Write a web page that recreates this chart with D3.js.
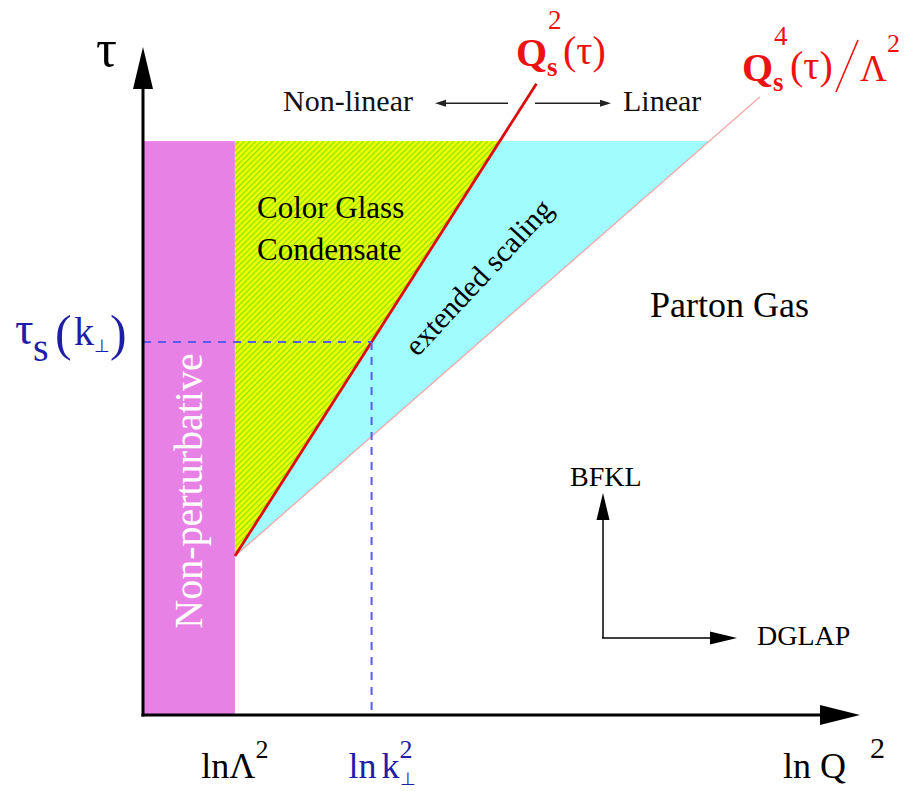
<!DOCTYPE html>
<html>
<head>
<meta charset="utf-8">
<script src="https://cdn.jsdelivr.net/npm/d3@7"></script>
<style>
  html, body { margin: 0; padding: 0; background: #ffffff; }
  svg { display: block; }
</style>
</head>
<body>
<svg id="chart" width="907" height="791" font-family="'Liberation Serif', Tinos, 'Times New Roman', serif"></svg>
<script>
// Phase diagram of high-energy QCD in the (ln Q², τ) plane.

// Extent of the two axes (arbitrary units)
const lnQ2Range = [0, 7.8];
const tauRange = [0, 11.64];

// Key values
const lnLambda2 = 1.0;     // ln Λ²: edge of the non-perturbative strip
const tauTop = 10.0;       // upper edge of the shaded regions
const tauOnset = 2.77;     // τ where both boundary lines start
const tauS = 6.5;          // τ_s(k⊥)

// Boundary lines as [ln Q², τ] end points
const saturationLine = [[1.0, 2.77], [4.28, 11.0]];   // Q_s²(τ)
const scalingLine = [[1.0, 2.77], [6.71, 10.77]];     // Q_s⁴(τ)/Λ²

// Region names
const regionNames = {
  cgc: ["Color Glass", "Condensate"],
  scaling: "extended scaling",
  gas: "Parton Gas",
  np: "Non-perturbative"
};

const svg = d3.select("#chart");

const x = d3.scaleLinear().domain(lnQ2Range).range([143, 860]);
const y = d3.scaleLinear().domain(tauRange).range([715, 47]);

// ln Q² on a boundary line at a given τ
function lnQ2At(line, tau) {
  const [[x0, t0], [x1, t1]] = line;
  return x0 + (tau - t0) * (x1 - x0) / (t1 - t0);
}

const lnK2 = lnQ2At(saturationLine, tauS);
const satTop = lnQ2At(saturationLine, tauTop);
const scalTop = lnQ2At(scalingLine, tauTop);

// Hatch for the Color Glass Condensate region
const defs = svg.append("defs");
const hatch = defs.append("pattern")
  .attr("id", "cgcHatch")
  .attr("patternUnits", "userSpaceOnUse")
  .attr("width", 4).attr("height", 4)
  .attr("patternTransform", "rotate(45)");
hatch.append("rect").attr("width", 4).attr("height", 4).attr("fill", "#efff00");
hatch.append("rect").attr("width", 1.3).attr("height", 4).attr("fill", "#8de400");

const poly = pts => "M" + pts.map(p => x(p[0]) + "," + y(p[1])).join("L") + "Z";

// Non-perturbative strip
svg.append("rect")
  .attr("x", x(0)).attr("y", y(tauTop))
  .attr("width", x(lnLambda2) - x(0))
  .attr("height", y(0) - y(tauTop))
  .attr("fill", "#e881e6");

// Color Glass Condensate
svg.append("path")
  .attr("d", poly([[lnLambda2, tauTop], [satTop, tauTop], [lnLambda2, tauOnset]]))
  .attr("fill", "url(#cgcHatch)");

// Extended scaling window
svg.append("path")
  .attr("d", poly([[satTop, tauTop], [scalTop, tauTop], [lnLambda2, tauOnset]]))
  .attr("fill", "#a0fcfd");

const lineGen = d3.line().x(d => x(d[0])).y(d => y(d[1]));

// Q_s⁴/Λ² boundary
svg.append("path")
  .attr("d", lineGen(scalingLine))
  .attr("fill", "none")
  .attr("stroke", "#f2a8a8")
  .attr("stroke-width", 1.3);

// Saturation line
svg.append("path")
  .attr("d", lineGen(saturationLine))
  .attr("fill", "none")
  .attr("stroke", "#dd0c0c")
  .attr("stroke-width", 2.8);

// τ_s(k⊥) guides
const dashColor = "#5a5af5";
svg.append("line")
  .attr("x1", x(0)).attr("x2", x(lnK2))
  .attr("y1", y(tauS)).attr("y2", y(tauS))
  .attr("stroke", dashColor).attr("stroke-width", 2)
  .attr("stroke-dasharray", "8,7");
svg.append("line")
  .attr("x1", x(lnK2)).attr("x2", x(lnK2))
  .attr("y1", y(tauS)).attr("y2", y(0))
  .attr("stroke", dashColor).attr("stroke-width", 2)
  .attr("stroke-dasharray", "8,7");

// Straight arrow with a filled triangular head
function arrow(g, x1, y1, x2, y2, width, headLen, headHalf, color) {
  const dx = x2 - x1, dy = y2 - y1;
  const len = Math.hypot(dx, dy);
  const ux = dx / len, uy = dy / len;
  const bx = x2 - ux * headLen, by = y2 - uy * headLen;
  g.append("line")
    .attr("x1", x1).attr("y1", y1).attr("x2", bx + ux).attr("y2", by + uy)
    .attr("stroke", color).attr("stroke-width", width);
  g.append("path")
    .attr("d", `M${x2},${y2}L${bx - uy * headHalf},${by + ux * headHalf}L${bx + uy * headHalf},${by - ux * headHalf}Z`)
    .attr("fill", color);
}

// Axes
const axes = svg.append("g");
arrow(axes, x(0), y(0) + 1.5, x(0), y(tauRange[1]), 3, 42, 10, "#000");
arrow(axes, x(0) - 1.5, y(0), x(lnQ2Range[1]), y(0), 3, 40, 10, "#000");

// Non-linear / Linear arrows across the saturation line
const tauArrow = 10.66;
const ann = svg.append("g");
arrow(ann, 508, y(tauArrow), 435, y(tauArrow), 1.3, 11, 3.5, "#222");
arrow(ann, 535, y(tauArrow), 611, y(tauArrow), 1.3, 11, 3.5, "#222");
ann.append("text").attr("x", 283).attr("y", y(tauArrow) + 8)
  .attr("font-size", 30).attr("fill", "#111").text("Non-linear");
ann.append("text").attr("x", 623).attr("y", y(tauArrow) + 8)
  .attr("font-size", 30).attr("fill", "#111").text("Linear");

// BFKL / DGLAP evolution directions
arrow(ann, 603, 638, 603, 493, 1.5, 27, 6.5, "#000");
arrow(ann, 602, 638, 737, 638, 1.5, 27, 6.5, "#000");
ann.append("text").attr("x", 570).attr("y", 486).attr("font-size", 28).text("BFKL");
ann.append("text").attr("x", 757).attr("y", 645).attr("font-size", 28).text("DGLAP");

// Region labels
svg.append("text").attr("x", 257).attr("y", 218).attr("font-size", 31).text(regionNames.cgc[0]);
svg.append("text").attr("x", 257).attr("y", 260).attr("font-size", 31).text(regionNames.cgc[1]);
svg.append("text").attr("x", 650).attr("y", 317).attr("font-size", 36).text(regionNames.gas);
svg.append("text")
  .attr("transform", "translate(486,284) rotate(-47)")
  .attr("text-anchor", "middle")
  .attr("font-size", 30)
  .text(regionNames.scaling);
svg.append("text")
  .attr("transform", `translate(${(x(0) + x(lnLambda2)) / 2 + 13},491) rotate(-90)`)
  .attr("text-anchor", "middle")
  .attr("font-size", 40)
  .attr("fill", "#ffffff")
  .text(regionNames.np);

// Axis titles
svg.append("text").attr("x", 96).attr("y", 66).attr("font-size", 52).text("τ");

const xl = svg.append("text").attr("x", 783).attr("y", 778).attr("font-size", 36);
xl.append("tspan").text("ln Q");
xl.append("tspan").attr("dx", 24).attr("dy", -20).attr("font-size", 30).text("2");

// ln Λ² under the strip edge
const ll = svg.append("text").attr("x", x(lnLambda2)).attr("y", 778)
  .attr("font-size", 36).attr("text-anchor", "middle");
ll.append("tspan").text("lnΛ");
ll.append("tspan").attr("dy", -20).attr("font-size", 26).text("2");

// ln k⊥² under the vertical guide
const blue = "#1e1ea8";
const kl = svg.append("text").attr("x", x(lnK2) - 23).attr("y", 778)
  .attr("font-size", 36).attr("fill", blue);
kl.append("tspan").text("ln");
kl.append("tspan").attr("dx", 5).text("k");
kl.append("tspan").attr("dy", -20).attr("font-size", 26).text("2");
kl.append("tspan").attr("dx", -13).attr("dy", 27).attr("font-size", 18).text("⊥");

// τ_s(k⊥) beside the horizontal guide
const tl = svg.append("g").attr("fill", blue);
const ty = y(tauS);
tl.append("text").attr("x", 15).attr("y", ty + 2).attr("font-size", 46).text("τ");
tl.append("text").attr("x", 33).attr("y", ty + 19).attr("font-size", 40).text("s");
tl.append("text").attr("x", 55).attr("y", ty + 8).attr("font-size", 50).text("(");
tl.append("text").attr("x", 74).attr("y", ty + 3).attr("font-size", 40).text("k");
tl.append("text").attr("x", 94).attr("y", ty + 10).attr("font-size", 18).text("⊥");
tl.append("text").attr("x", 110).attr("y", ty + 8).attr("font-size", 50).text(")");

// Line labels
const red = "#ee1111";
const q2 = svg.append("g").attr("fill", red);
q2.append("text").attr("x", 516).attr("y", 66).attr("font-size", 40).attr("font-weight", "bold").text("Q");
q2.append("text").attr("x", 547).attr("y", 76).attr("font-size", 27).attr("font-weight", "bold").text("s");
q2.append("text").attr("x", 548).attr("y", 29).attr("font-size", 27).text("2");
q2.append("text").attr("x", 563).attr("y", 64).attr("font-size", 40).text("(τ)");

const q4 = svg.append("g").attr("fill", red);
q4.append("text").attr("x", 742).attr("y", 81).attr("font-size", 40).attr("font-weight", "bold").text("Q");
q4.append("text").attr("x", 773).attr("y", 91).attr("font-size", 27).attr("font-weight", "bold").text("s");
q4.append("text").attr("x", 774).attr("y", 45).attr("font-size", 27).text("4");
q4.append("text").attr("x", 790).attr("y", 79).attr("font-size", 40).text("(τ)");
q4.append("line").attr("x1", 836).attr("y1", 92).attr("x2", 858).attr("y2", 40)
  .attr("stroke", red).attr("stroke-width", 1.6);
q4.append("text").attr("x", 860).attr("y", 81).attr("font-size", 37).text("Λ");
q4.append("text").attr("x", 887).attr("y", 52).attr("font-size", 26).text("2");
</script>
</body>
</html>
